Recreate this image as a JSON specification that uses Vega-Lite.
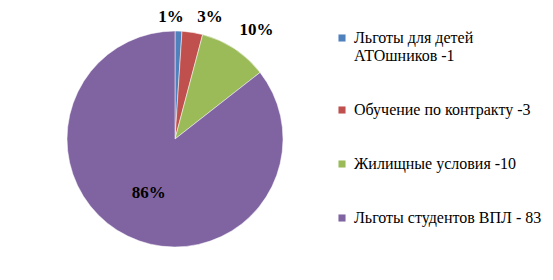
{
  "$schema": "https://vega.github.io/schema/vega-lite/v6.json",
  "width": 350,
  "height": 270,
  "padding": 0,
  "autosize": "pad",
  "background": "white",
  "config": {
    "view": {"stroke": null}
  },
  "data": {
    "values": [
      {"cat": "Льготы для детей АТОшников  -1", "value": 1, "pct": "1%", "ord": 1},
      {"cat": "Обучение по контракту  -3", "value": 3, "pct": "3%", "ord": 2},
      {"cat": "Жилищные условия  -10", "value": 10, "pct": "10%", "ord": 3},
      {"cat": "Льготы студентов ВПЛ - 83", "value": 83, "pct": "86%", "ord": 4}
    ]
  },
  "encoding": {
    "theta": {"field": "value", "type": "quantitative", "stack": true},
    "order": {"field": "ord", "type": "quantitative"}
  },
  "layer": [
    {
      "mark": {"type": "arc", "outerRadius": 108, "stroke": "white", "strokeWidth": 0.5},
      "encoding": {
        "color": {
          "field": "cat",
          "type": "nominal",
          "scale": {
            "domain": ["Льготы для детей АТОшников  -1", "Обучение по контракту  -3", "Жилищные условия  -10", "Льготы студентов ВПЛ - 83"],
            "range": ["#4F81BD", "#C0504D", "#9BBB59", "#8064A2"]
          },
          "legend": {
            "title": null,
            "orient": "none",
            "legendX": 334,
            "legendY": 26,
            "symbolType": "square",
            "symbolSize": 50,
            "symbolStrokeWidth": 0,
            "labelFont": "Times New Roman",
            "labelFontSize": 16,
            "labelColor": "black",
            "labelLimit": 300,
            "rowPadding": 38,
            "labelExpr": "datum.label == 'Льготы для детей АТОшников  -1' ? ['Льготы для детей', 'АТОшников  -1'] : datum.label"
          }
        }
      }
    },
    {
      "mark": {"type": "text", "radius": 122, "dx": -8, "font": "Liberation Serif", "fontSize": 17, "fontWeight": "bold", "color": "black"},
      "encoding": {
        "text": {"condition": {"test": "datum.ord == 1", "field": "pct"}, "value": ""}
      }
    },
    {
      "mark": {"type": "text", "radius": 124, "dx": 15, "font": "Liberation Serif", "fontSize": 17, "fontWeight": "bold", "color": "black"},
      "encoding": {
        "text": {"condition": {"test": "datum.ord == 2", "field": "pct"}, "value": ""}
      }
    },
    {
      "mark": {"type": "text", "radius": 130, "dx": 10, "font": "Liberation Serif", "fontSize": 17, "fontWeight": "bold", "color": "black"},
      "encoding": {
        "text": {"condition": {"test": "datum.ord == 3", "field": "pct"}, "value": ""}
      }
    },
    {
      "mark": {"type": "text", "radius": 60, "font": "Liberation Serif", "fontSize": 17, "fontWeight": "bold", "color": "black"},
      "encoding": {
        "text": {"condition": {"test": "datum.ord == 4", "field": "pct"}, "value": ""}
      }
    }
  ]
}
